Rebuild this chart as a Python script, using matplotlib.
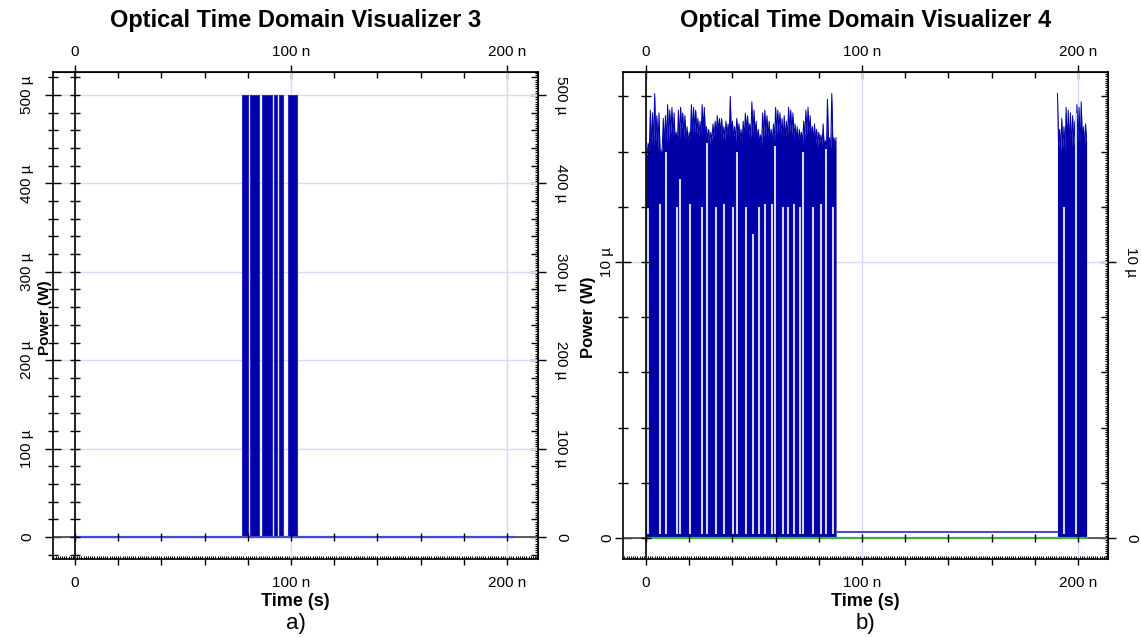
import numpy as np
import matplotlib
matplotlib.use('Agg')
import matplotlib.pyplot as plt
from matplotlib.ticker import MultipleLocator, NullFormatter

plt.rcParams['font.family'] = ['Liberation Sans', 'DejaVu Sans']

W, H = 1141, 637

titles = ['Optical Time Domain Visualizer 3', 'Optical Time Domain Visualizer 4']
panel_tags = ['a)', 'b)']
x_label = 'Time (s)'
y_label = 'Power (W)'
x_major = [0, 100, 200]          # ns
x_major_labels = ['0', '100 n', '200 n']

# ---- panel a: NRZ burst at 500 uW (time in ns, power in uW)
a_pulse_start = [77.2, 81.0, 86.7, 92.1, 94.3, 98.8]
a_pulse_end = [80.2, 85.2, 91.1, 93.7, 96.4, 102.6]
a_pulse_level = 500.0
a_trace_end = 203.0
a_y_major = [0, 100, 200, 300, 400, 500]
a_y_labels = ['0', '100 µ', '200 µ', '300 µ', '400 µ', '500 µ']

# ---- panel b: noisy received burst (uW), sampled every 0.5 ns
b1_start, b1_step = 0.0, 0.5
b1_power = [13.9, 13.9, 14.3, 14.0, 15.5, 14.1, 15.4, 14.2, 16.1, 14.3,
            15.3, 14.0, 15.4, 14.0, 14.0, 14.1, 15.2, 14.2, 15.3, 14.3,
            15.7, 14.4, 15.5, 14.6, 15.6, 14.5, 15.4, 14.3, 14.7, 14.2,
            15.5, 14.4, 15.6, 14.8, 15.4, 14.5, 15.3, 14.4, 14.9, 14.3,
            14.7, 14.4, 15.7, 14.6, 15.6, 14.7, 15.5, 14.6, 15.2, 14.5,
            15.1, 14.6, 15.7, 14.8, 15.6, 14.5, 14.9, 14.4, 14.8, 14.3,
            14.7, 14.4, 15.0, 14.5, 15.1, 14.6, 15.3, 14.7, 15.2, 14.6,
            15.2, 14.5, 14.9, 14.4, 15.1, 14.6, 15.0, 14.5, 16.0, 14.6,
            15.1, 14.5, 14.9, 14.4, 15.2, 14.6, 15.0, 14.4, 14.8, 14.3,
            15.1, 14.5, 15.4, 14.7, 15.3, 14.6, 15.0, 14.5, 15.8, 14.6,
            15.5, 14.6, 15.1, 14.4, 14.8, 14.3, 14.6, 14.2, 15.4, 14.5,
            15.5, 14.6, 15.3, 14.5, 15.1, 14.4, 14.8, 14.3, 15.0, 14.4,
            15.6, 14.6, 15.5, 14.7, 15.4, 14.6, 15.2, 14.5, 15.3, 14.4,
            15.1, 14.5, 15.6, 14.7, 15.5, 14.6, 15.4, 14.5, 15.0, 14.4,
            14.9, 14.3, 14.8, 14.4, 14.7, 14.3, 15.1, 14.5, 15.5, 14.6,
            15.6, 14.7, 15.3, 14.5, 14.9, 14.4, 15.0, 14.3, 14.8, 14.2,
            14.7, 14.3, 14.6, 14.2, 15.0, 14.1, 14.4, 14.0, 15.9, 14.2,
            14.5, 14.1, 16.1, 14.3, 14.5, 14.2, 14.5]
b2_start, b2_step = 190.5, 0.5
b2_power = [16.1, 14.2, 14.8, 14.0, 15.2, 14.1, 14.9, 14.0, 15.6, 14.3,
            15.5, 14.2, 15.4, 14.1, 15.3, 14.2, 15.1, 14.0, 15.7, 14.3,
            15.6, 14.2, 15.8, 14.4, 14.9, 14.2, 15.0, 14.3]
b_dip_time = [1.1, 6.5, 9.3, 14.5, 15.7, 20.4, 25.8, 28.1, 32.4, 36.0, 40.4,
              42.0, 46.3, 49.7, 52.5, 55.0, 58.2, 59.7, 63.6, 65.9, 68.5,
              71.3, 72.5, 77.5, 80.9, 83.2, 86.7, 193.5, 199.1]
b_dip_top = [12.0, 12.1, 14.0, 12.0, 13.0, 12.1, 12.0, 14.3, 12.0, 12.1, 12.0,
             14.0, 12.0, 11.0, 12.0, 12.1, 12.1, 14.2, 12.0, 12.0, 12.1,
             12.0, 14.0, 12.0, 12.1, 14.1, 12.0, 12.0, 15.4]
b_floor_level = 0.2
b_y_major = [0, 10]
b_y_labels = ['0', '10 µ']

SIG = '#0000a8'
EDGE = '#2a2ac4'
GAP = '#d4d4f6'
GRID = '#d8d8ff'
GREEN = '#3cb043'
AXGRAY = '#505050'


def px(x, y):
    return x / W, 1 - y / H


def dress(ax, xlim, ylim, y_major, y_labels, y_minor, dense_y, left_pad):
    ax.set_xlim(*xlim)
    ax.set_ylim(*ylim)
    for s in ax.spines.values():
        s.set_linewidth(1.2)
        s.set_color('black')

    ax.set_xticks(x_major, x_major_labels)
    ax.set_yticks(y_major, y_labels)
    ax.grid(True, which='major', color=GRID, lw=1)
    ax.set_axisbelow(True)

    # bottom axis: labels + short outward ticks every 20 ns
    ax.xaxis.set_minor_locator(MultipleLocator(20))
    ax.tick_params(axis='x', which='both', direction='out', length=4, width=1,
                   labelsize=11, pad=8, top=False, bottom=True)

    # left axis: crossing ticks, rotated labels
    ax.yaxis.set_minor_locator(MultipleLocator(y_minor))
    ax.tick_params(axis='y', which='major', direction='inout', length=11, width=1,
                   labelsize=11, pad=left_pad, labelrotation=90, left=True, right=False)
    ax.tick_params(axis='y', which='minor', direction='inout', length=7, width=1)
    for lab in ax.get_yticklabels():
        lab.set_va('center')

    # top axis
    top = ax.secondary_xaxis('top')
    top.set_xticks(x_major, x_major_labels)
    top.xaxis.set_minor_locator(MultipleLocator(20))
    top.tick_params(which='major', direction='inout', length=10, width=1,
                    labelsize=11, pad=4)
    top.tick_params(which='minor', direction='in', length=4, width=1)

    # right axis
    right = ax.secondary_yaxis('right')
    right.set_yticks(y_major, y_labels)
    right.yaxis.set_minor_locator(MultipleLocator(y_minor))
    right.tick_params(which='major', direction='inout', length=11, width=1,
                      labelsize=11, pad=6, labelrotation=270)
    right.tick_params(which='minor', direction='in', length=5, width=1)
    for lab in right.get_yticklabels():
        lab.set_va('center')

    # dotted look of bottom and right frame
    bd = ax.secondary_xaxis('bottom')
    bd.xaxis.set_major_locator(MultipleLocator(1))
    bd.xaxis.set_major_formatter(NullFormatter())
    bd.tick_params(direction='in', length=2, width=0.8)
    bd.spines['bottom'].set_visible(False)
    rd = ax.secondary_yaxis('right')
    rd.yaxis.set_major_locator(MultipleLocator(dense_y))
    rd.yaxis.set_major_formatter(NullFormatter())
    rd.tick_params(direction='in', length=2, width=0.8)
    rd.spines['right'].set_visible(False)

    # inner axis through t = 0
    fx0 = (0 - xlim[0]) / (xlim[1] - xlim[0])
    iy = ax.secondary_yaxis(fx0)
    iy.set_yticks(y_major)
    iy.yaxis.set_major_formatter(NullFormatter())
    iy.yaxis.set_minor_locator(MultipleLocator(y_minor))
    iy.tick_params(which='both', direction='inout', length=7, width=1)
    iy.spines['left'].set_linewidth(1.2)
    iy.set_zorder(4)

    # inner axis through P = 0
    fy0 = (0 - ylim[0]) / (ylim[1] - ylim[0])
    ax.axhline(0, color=AXGRAY, lw=1.3, zorder=1.5)
    ix = ax.secondary_xaxis(fy0)
    ix.xaxis.set_major_locator(MultipleLocator(20))
    ix.xaxis.set_major_formatter(NullFormatter())
    ix.tick_params(direction='inout', length=6, width=1)
    ix.spines['bottom'].set_visible(False)
    ix.set_zorder(4)


fig = plt.figure(figsize=(W / 100, H / 100), dpi=100)
fig.patch.set_facecolor('white')

box_w, box_h = 485 / W, 487 / H
box_b = 1 - 559 / H
ax_a = fig.add_axes([53 / W, box_b, box_w, box_h])
ax_b = fig.add_axes([623 / W, box_b, box_w, box_h])

# ---- panel a
ta, pa = [0.0], [0.0]
for s, e in zip(a_pulse_start, a_pulse_end):
    ta += [s, s, e, e]
    pa += [0, a_pulse_level, a_pulse_level, 0]
ta.append(a_trace_end)
pa.append(0)
ax_a.fill_between(ta, pa, color=SIG, lw=0, zorder=2)
ax_a.plot(ta, pa, color=EDGE, lw=0.8, zorder=2.1)
ax_a.plot([0, a_trace_end], [0, 0], color='#4848d0', lw=1.6, zorder=2.5)
dress(ax_a, (-10.19, 214.35), (-24.9, 526.0), a_y_major, a_y_labels, 20, 2.5, 8)

# ---- panel b
t1 = b1_start + b1_step * np.arange(len(b1_power))
t2 = b2_start + b2_step * np.arange(len(b2_power))
ax_b.fill_between(t1, b1_power, color=SIG, lw=0, zorder=2)
ax_b.plot(t1, b1_power, color=SIG, lw=0.7, zorder=2)
ax_b.fill_between(t2, b2_power, color=SIG, lw=0, zorder=2)
ax_b.plot(t2, b2_power, color=SIG, lw=0.7, zorder=2)
ax_b.plot([t1[-1], t2[0]], [b_floor_level, b_floor_level], color=EDGE, lw=1.2, zorder=2)
ax_b.vlines(b_dip_time, 0.15, b_dip_top, color=GAP, lw=1.5, zorder=2.2)
ax_b.plot([0, t2[-1]], [0, 0], color=GREEN, lw=1.6, zorder=2.5)
dress(ax_b, (-10.65, 213.9), (-0.76, 16.88), b_y_major, b_y_labels, 2, 0.08, 1)

# ---- titles and labels
for ax_left, title, tag in [(53, titles[0], panel_tags[0]), (623, titles[1], panel_tags[1])]:
    cx = ax_left + 242.5
    fig.text(*px(cx, 20), title, ha='center', va='center', fontsize=17,
             fontweight='bold')
    fig.text(*px(cx, 601), x_label, ha='center', va='center', fontsize=13,
             fontweight='bold')
    fig.text(*px(cx, 624), tag, ha='center', va='center', fontsize=16)

fig.text(*px(45, 318), y_label, ha='center', va='center', rotation=90,
         fontsize=11, fontweight='bold')
fig.text(*px(588, 317), y_label, ha='center', va='center', rotation=90,
         fontsize=12, fontweight='bold')

fig.savefig('out.png', dpi=100, facecolor='white')
